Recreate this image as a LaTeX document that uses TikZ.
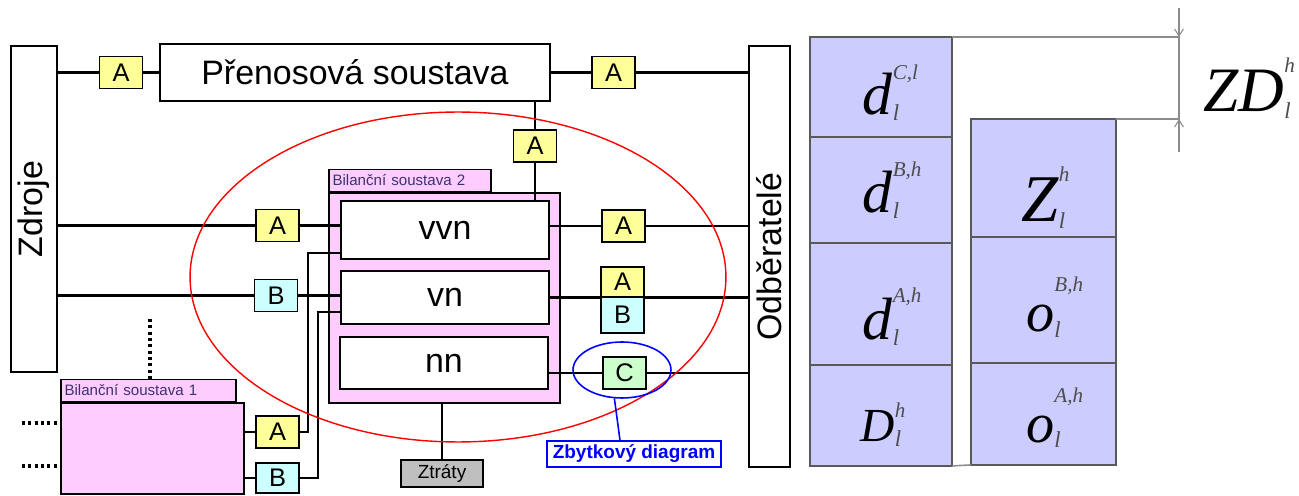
\documentclass[tikz,border=0pt]{standalone}
\usepackage{fontspec}
\setmainfont{Liberation Sans}
\newfontfamily\tms{Liberation Serif}
\usepackage{tikz}
\usetikzlibrary{shapes.geometric,arrows.meta,positioning,calc}
\definecolor{ayel}{RGB}{255,255,153}
\definecolor{bcya}{RGB}{204,255,255}
\definecolor{cgrn}{RGB}{204,255,204}
\definecolor{bpink}{RGB}{255,204,255}
\definecolor{cellc}{RGB}{204,204,255}
\definecolor{bstxt}{RGB}{60,50,110}
\newcommand\vsym[5]{\raisebox{-#1}[0pt][0pt]{#3\rlap{\raisebox{#2}{\fontsize{12}{12}\selectfont\color{black!70}#4}}\raisebox{-0.1em}{\fontsize{13}{13}\selectfont\color{black!70}#5}}}
\tikzset{
  big/.style={font=\fontsize{19.3}{22}\selectfont},
  sys/.style={draw,line width=0.9pt,fill=white,inner sep=0pt,big},
  tag/.style={draw,line width=0.8pt,inner sep=0pt,minimum width=0.86cm,minimum height=0.64cm,font=\fontsize{14.5}{16}\selectfont},
  pinkbox/.style={draw,line width=0.9pt,fill=bpink,inner sep=0pt},
  tabl/.style={draw,line width=0.9pt,fill=bpink,anchor=south west,inner sep=2pt,minimum height=0.44cm,align=left,text=bstxt,font=\fontsize{8.6}{10}\selectfont},
  wire/.style={line width=1.3pt},
  dots/.style={line width=1.8pt,dash pattern=on 1.8pt off 1.8pt},
  cel/.style={draw=black!65,line width=0.8pt,fill=cellc,inner sep=0pt,outer sep=0pt},
  symf/.style={font=\tms\itshape\fontsize{#1}{#1}\selectfont},
  dim/.style={draw=black!45,line width=0.9pt},
  dimarr/.style={draw=black!45,line width=0.6pt,-{Straight Barb[length=4pt,width=5pt]}}
}
\begin{document}
\begin{tikzpicture}[x=0.02cm,y=-0.02cm,tagA/.style={tag,fill=ayel},tagB/.style={tag,fill=bcya},tagC/.style={tag,fill=cgrn}]
\useasboundingbox (0,0) rectangle (1299,496);
\node[sys,minimum width=0.92cm,minimum height=6.52cm,label={[big,rotate=90]center:Zdroje}] (zd) at (34,209) {};
\node[sys,minimum width=0.82cm,minimum height=8.42cm,label={[big,rotate=90]center:Odběratelé}] (odb) at (769.5,256.5) {};
\node[sys,minimum width=7.8cm,minimum height=1.14cm] (pren) at (355,72.5) {Přenosová soustava};
\node[pinkbox,minimum width=4.62cm,minimum height=4.2cm] (bs2) at (444.5,298) {};
\node[tabl,text width=3.1cm] (bs2t) at (bs2.north west) {Bilanční soustava 2};
\node[sys,minimum width=4.16cm,minimum height=1.16cm] (vvn) at (445,230) {vvn};
\node[sys,minimum width=4.16cm,minimum height=1.06cm] (vn) at (445,297.5) {vn};
\node[sys,minimum width=4.16cm,minimum height=1.04cm] (nn) at (444,363) {nn};
\node[pinkbox,minimum width=3.66cm,minimum height=1.82cm] (bs1) at (152.5,448.5) {};
\node[tabl,text width=3.36cm] (bs1t) at (bs1.north west) {Bilanční soustava 1};
\node[draw,fill=black!25,line width=0.8pt,minimum width=1.64cm,minimum height=0.54cm,inner sep=0pt,font=\fontsize{10.8}{12}\selectfont] (ztr) at (442,473.5) {Ztráty};
\node[tagA] (a1) at (121,72.5) {A};
\node[tagA] (a2) at (613.5,72.5) {A};
\node[tagA] (a3) at (535,146) {A};
\node[tagA] (a4) at (277.5,225.5) {A};
\node[tagB] (b1) at (276,295.5) {B};
\node[tagA] (a5) at (623.5,226) {A};
\node[tagA,minimum height=0.6cm] (a6) at (622.5,282) {A};
\node[tagB,minimum height=0.72cm] (b2) at (622.5,315) {B};
\node[tagC] (c) at (624.5,373) {C};
\node[tagA] (a7) at (277.5,432) {A};
\node[tagB,minimum height=0.6cm] (b3) at (277.5,478) {B};
\coordinate (k1) at (308,253);
\coordinate (k2) at (318,312);
\coordinate (d0) at (150,319);
\coordinate (d1) at (22,423);
\coordinate (d2) at (22,466);
\draw[wire] (zd.east |- a1) -- (a1) -- (pren);
\draw[wire] (pren) -- (a2) -- (a2 -| odb.west);
\draw[wire] (pren.south -| a3) -- (a3) -- (a3 |- vvn.north);
\draw[wire] (zd.east |- a4) -- (a4) -- (a4 -| vvn.west);
\draw[wire] (zd.east |- b1) -- (b1) -- (b1 -| vn.west);
\draw[wire] (vvn.east |- a5) -- (a5) -- (a5 -| odb.west);
\draw[wire] (vn.east) -- (vn.east -| a6.west);
\draw[wire] (vn.east -| a6.east) -- (vn.east -| odb.west);
\draw[wire] (c -| nn.east) -- (c) -- (c -| odb.west);
\draw[wire] (bs2.south -| ztr) -- (ztr);
\draw[wire] (bs1.east |- a7) -- (a7) -- (a7 -| k1) -- (k1) -- (k1 -| vvn.west);
\draw[wire] (bs1.east |- b3) -- (b3) -- (b3 -| k2) -- (k2) -- (k2 -| vn.west);
\draw[dots] (d0) -- (d0 |- bs1t.north);
\foreach \d in {d1,d2} \draw[dots] (\d) -- (\d -| bs1.west);
\node[draw=red,line width=0.8pt,ellipse,minimum width=10.72cm,minimum height=6.6cm] (rell) at (458,277) {};
\node[draw=blue,line width=0.9pt,ellipse,minimum width=1.96cm,minimum height=1.12cm,inner sep=0pt] (bell) at (622,370) {};
\node[draw=blue,line width=0.8pt,text=blue,minimum width=3.48cm,minimum height=0.52cm,inner sep=0pt,font=\bfseries\fontsize{10.8}{12}\selectfont] (zby) at (634,454) {Zbytkový diagram};
\draw[blue,line width=0.9pt] (bell.255) -- ([xshift=-0.28cm]zby.north);
\node[cel,symf=34,minimum width=2.84cm,minimum height=2cm,anchor=north west] (c1) at (810,37) {\vsym{15.9pt}{.6em}{d}{C,l}{l}};
\node[cel,symf=34,minimum width=2.84cm,minimum height=2.12cm,below=0pt of c1] (c2) {\vsym{13pt}{.6em}{d}{B,h}{l}};
\node[cel,symf=34,minimum width=2.84cm,minimum height=2.44cm,below=0pt of c2] (c3) {\vsym{20.4pt}{.63em}{d}{A,h}{l}};
\node[cel,symf=27,minimum width=2.84cm,minimum height=2.02cm,below=0pt of c3] (c4) {\vsym{15pt}{.52em}{D}{h}{l}};
\node[cel,symf=38,minimum width=2.9cm,minimum height=2.36cm,anchor=north west] (r1) at (971,119) {\vsym{25pt}{.6em}{Z}{h}{l}};
\node[cel,symf=32,minimum width=2.9cm,minimum height=2.52cm,below=0pt of r1] (r2) {\vsym{18pt}{.71em}{o}{B,h}{l}};
\node[cel,symf=32,minimum width=2.9cm,minimum height=2.04cm,below=0pt of r2] (r3) {\vsym{16pt}{.71em}{o}{A,h}{l}};
\coordinate (zt) at (1179,37);
\coordinate (zb) at (1179,119);
\coordinate (zt0) at (1179,8);
\coordinate (zb0) at (1179,152);
\draw[dim] (c1.north east) -- (zt) -- (zb) -- (r1.north east);
\draw[dim] (c4.south east) -- (r3.south west);
\draw[dimarr] (zt0) -- (zt);
\draw[dimarr] (zb0) -- (zb);
\node[symf=36] (zdl) at (1247,112) {\vsym{0pt}{.62em}{ZD}{h}{l}};
\end{tikzpicture}
\end{document}
